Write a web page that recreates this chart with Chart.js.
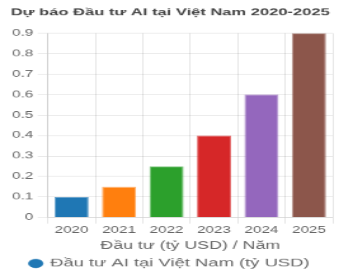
<!DOCTYPE html>
<html>
<head>
<meta charset="utf-8">
<script src="https://cdn.jsdelivr.net/npm/chart.js@4"></script>
<style>
  html, body { margin: 0; padding: 0; background: #fff; overflow: hidden; }
  /* biểu đồ gốc bị kéo giãn ngang / nén dọc */
  #wrap { width: 267px; height: 368px; transform: scale(1.2697, 0.7609); transform-origin: 0 0; }
</style>
</head>
<body>
<div id="wrap"><canvas id="chart" width="267" height="368"></canvas></div>
<script>
// Dữ liệu biểu đồ
const years = ['2020', '2021', '2022', '2023', '2024', '2025'];
const investment = [0.1, 0.15, 0.25, 0.4, 0.6, 0.9];
const barColors = ['#1f77b4', '#ff7f0e', '#2ca02c', '#d62728', '#9467bd', '#8c564b'];

Chart.defaults.color = '#666';

new Chart(document.getElementById('chart'), {
  type: 'bar',
  data: {
    labels: years,
    datasets: [{
      label: 'Đầu tư AI tại Việt Nam (tỷ USD)',
      data: investment,
      backgroundColor: barColors,
      borderColor: barColors.map(c => c + 'aa'),
      borderWidth: 1
    }]
  },
  options: {
    responsive: false,
    animation: false,
    layout: { padding: { left: 6, right: 5, bottom: 4.5 } },
    scales: {
      y: {
        beginAtZero: true,
        max: 0.9,
        ticks: { stepSize: 0.1, padding: 3.5 }
      },
      x: {
        ticks: { padding: 1.5 },
        title: { display: true, text: 'Đầu tư (tỷ USD) / Năm', font: { size: 14 } }
      }
    },
    plugins: {
      title: {
        display: true,
        text: 'Dự báo Đầu tư AI tại Việt Nam 2020-2025',
        font: { size: 13, weight: 'bold' },
        color: '#444',
        padding: { top: 9, bottom: 19 }
      },
      legend: {
        position: 'bottom',
        labels: { usePointStyle: true, pointStyle: 'circle', boxHeight: 8, boxWidth: 8, padding: 3, font: { size: 14.5 } }
      }
    }
  }
});
</script>
</body>
</html>
